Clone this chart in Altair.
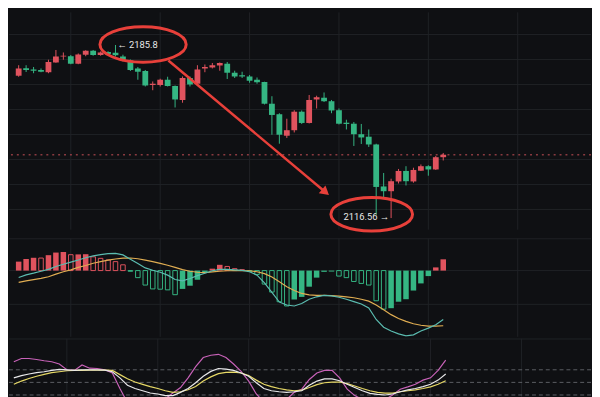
import altair as alt
import numpy as np
import pandas as pd

# ---------------- data ----------------
opens = [2173.5, 2176.5, 2176.0, 2175.8, 2174.9, 2178.8, 2181.2, 2181.3, 2178.3, 2181.9,
         2183.5, 2181.8, 2183.0, 2182.7, 2181.2, 2179.6, 2176.4, 2175.4, 2169.8, 2169.8,
         2171.9, 2169.4, 2163.8, 2172.6, 2170.3, 2176.4, 2176.8, 2177.6, 2178.3, 2174.7,
         2173.7, 2173.2, 2171.9, 2171.0, 2162.3, 2158.1, 2149.5, 2151.7, 2159.1, 2154.6,
         2164.0, 2164.7, 2163.3, 2159.7, 2154.7, 2154.3, 2150.1, 2149.1, 2146.0, 2129.2,
         2127.3, 2131.2, 2135.4, 2131.2, 2135.5, 2137.3, 2136.0, 2140.9]
highs = [2177.7, 2177.7, 2177.0, 2176.4, 2179.9, 2183.8, 2182.8, 2181.8, 2182.4, 2183.7,
         2183.8, 2183.2, 2183.3, 2185.8, 2181.9, 2180.0, 2177.0, 2175.8, 2171.2, 2172.3,
         2173.1, 2169.6, 2173.2, 2173.2, 2177.7, 2178.0, 2178.6, 2178.8, 2179.0, 2175.5,
         2175.1, 2173.8, 2172.8, 2171.1, 2165.3, 2158.5, 2156.3, 2159.7, 2159.6, 2165.8,
         2165.5, 2166.8, 2163.8, 2160.4, 2155.9, 2155.0, 2154.2, 2152.0, 2146.3, 2134.6,
         2132.3, 2136.2, 2137.3, 2136.7, 2138.0, 2137.7, 2141.4, 2142.6]
lows = [2173.1, 2175.0, 2174.5, 2174.9, 2174.5, 2178.7, 2179.9, 2178.1, 2178.1, 2181.3,
        2181.5, 2181.5, 2181.9, 2181.2, 2179.2, 2175.4, 2171.9, 2169.2, 2167.7, 2169.2,
        2169.2, 2160.8, 2162.7, 2169.2, 2170.0, 2174.9, 2176.4, 2175.5, 2172.2, 2172.6,
        2172.6, 2170.7, 2170.3, 2162.0, 2149.9, 2146.3, 2148.6, 2150.8, 2154.2, 2154.4,
        2160.4, 2163.0, 2158.5, 2154.0, 2152.0, 2145.4, 2146.2, 2145.0, 2117.7, 2124.5,
        2116.56, 2130.4, 2129.6, 2130.7, 2135.4, 2133.5, 2135.8, 2139.6]
closes = [2176.4, 2175.8, 2175.5, 2175.1, 2179.0, 2181.2, 2181.5, 2178.3, 2182.0, 2183.5,
          2181.8, 2182.8, 2182.2, 2181.7, 2179.9, 2175.8, 2175.1, 2169.6, 2170.3, 2171.9,
          2169.4, 2164.0, 2172.6, 2170.0, 2176.0, 2177.0, 2177.7, 2178.6, 2174.7, 2173.2,
          2173.2, 2171.5, 2170.9, 2162.3, 2157.8, 2149.9, 2151.7, 2159.1, 2154.6, 2163.8,
          2164.9, 2163.3, 2159.6, 2154.3, 2154.2, 2150.1, 2148.8, 2146.0, 2129.0, 2127.3,
          2131.3, 2135.4, 2131.3, 2135.8, 2137.3, 2136.0, 2140.9, 2141.9]

macd_hist = [9.3, 12.0, 13.3, 13.0, 16.0, 18.7, 19.3, 16.5, 16.8, 17.0,
             14.3, 12.7, 11.0, 9.3, 6.0, -0.7, -7.3, -15.0, -19.0, -19.3,
             -20.0, -25.0, -19.0, -15.7, -9.5, -2.3, 2.0, 6.0, 4.3, 2.0,
             1.0, -1.0, -4.0, -14.0, -22.3, -32.3, -36.7, -30.0, -27.3, -16.7,
             -7.3, -1.3, -1.0, -5.7, -7.3, -11.3, -13.3, -15.0, -31.3, -40.0,
             -39.0, -32.3, -29.7, -20.7, -13.3, -5.7, 3.3, 11.7]
macd_dif = [-7.2, -4.4, -2.7, -0.7, 1.3, 4.3, 6.6, 8.8, 11.0, 13.3,
            15.3, 16.6, 17.6, 17.8, 16.3, 11.8, 7.3, 2.8, 0.3, -1.7,
            -4.7, -9.2, -10.7, -8.2, -5.2, -2.7, -0.2, 1.3, 1.3, 0.8,
            0.3, -1.2, -4.7, -12.7, -22.7, -32.7, -35.7, -36.7, -34.2, -29.7,
            -27.2, -25.7, -26.2, -27.7, -29.7, -32.2, -34.7, -38.7, -50.7, -58.7,
            -62.7, -65.7, -67.7, -66.7, -62.7, -59.7, -56.2, -50.7]
macd_dea = [-12.2, -10.7, -9.4, -8.0, -6.4, -3.7, -1.2, 0.8, 3.3, 5.3,
            7.6, 9.3, 10.8, 12.0, 13.0, 13.1, 12.3, 10.8, 9.3, 7.5,
            5.5, 3.3, 1.0, -0.7, -1.7, -2.2, -1.4, -0.7, -0.2, 0.0,
            0.0, -0.2, -1.2, -3.2, -6.7, -11.7, -16.7, -20.7, -23.7, -25.2,
            -25.7, -25.7, -26.0, -26.4, -27.2, -28.2, -29.7, -31.7, -35.7, -40.7,
            -45.7, -49.7, -52.7, -55.2, -56.7, -57.7, -57.7, -57.2]

kdj_k = [60.8, 66.2, 70.0, 73.1, 75.4, 78.5, 80.8, 80.0, 78.5, 80.0,
         80.0, 80.0, 79.2, 75.4, 60.8, 43.1, 35.4, 30.0, 24.6, 22.3,
         18.5, 18.5, 26.2, 35.4, 49.2, 64.6, 76.2, 83.1, 81.5, 78.5,
         72.3, 64.6, 49.2, 35.4, 30.0, 27.7, 26.2, 27.7, 30.0, 43.1,
         53.1, 58.5, 58.5, 53.8, 45.4, 37.7, 30.0, 23.8, 21.5, 20.0,
         22.3, 27.7, 32.3, 35.4, 40.0, 45.4, 55.4, 70.0]
kdj_d = [45.4, 53.1, 59.2, 64.6, 69.2, 73.1, 75.4, 77.7, 78.5, 78.5,
         79.2, 79.2, 79.2, 78.5, 68.5, 58.5, 50.8, 45.4, 40.0, 35.4,
         30.0, 26.2, 27.7, 32.3, 40.0, 53.1, 63.1, 70.8, 73.8, 74.6,
         72.3, 66.2, 55.4, 45.4, 40.0, 35.4, 32.3, 30.0, 31.5, 37.7,
         44.6, 49.2, 50.8, 50.8, 46.9, 41.5, 35.4, 30.0, 26.2, 24.6,
         24.6, 27.7, 30.0, 32.3, 35.4, 39.2, 45.4, 53.8]
kdj_j = [99.2, 106.9, 106.9, 104.6, 101.5, 99.2, 93.8, 80.0, 78.5, 91.5,
         83.8, 83.1, 80.0, 72.3, 35.4, 1.5, -4.6, -4.6, -3.1, 3.1,
         10.8, 24.6, 37.7, 60.8, 87.7, 109.2, 114.6, 116.9, 109.2, 93.8,
         76.2, 53.1, 22.3, 3.1, -2.3, -0.8, 9.2, 26.2, 33.8, 56.9,
         72.3, 78.5, 78.5, 60.8, 33.8, 18.5, 9.2, -0.8, 1.5, 9.2,
         20.0, 33.8, 39.2, 45.4, 55.4, 60.8, 78.5, 103.1]

time_grid = [7, 19, 31, 43, 55, 67]
price_grid = [2120, 2130, 2140, 2150, 2160, 2170, 2180, 2190]
macd_grid = [33, 0, -35]
kdj_top = [153.4]
kdj_levels = [80, 50, 20]

high_label = "\u2190 2185.8"
low_label = "2116.56 \u2192"

# annotation anchors (candle index, price)
ellipse_x = [16.7, 47.4]
ellipse_y = [2186.0, 2118.1]
ellipse_size = [7700, 6900]
arrow_from = (20.1, 2179.6)
arrow_to = (41.2, 2126.9)

# ---------------- style ----------------
BG = "#0f1013"
GRID = "#202226"
UP = "#e0535e"
DOWN = "#35b683"
ANN = "#e8403a"
W = 592
H_PRICE, H_MACD, H_KDJ = 221, 100, 68

x_scale = alt.Scale(domain=[-0.64, 76.18], nice=False, zero=False)
p_scale = alt.Scale(domain=[2111.92, 2198.85], nice=False, zero=False)
m_scale = alt.Scale(domain=[-68.7, 33.3], nice=False, zero=False)
k_scale = alt.Scale(domain=[-5.4, 153.9], nice=False, zero=False)

ELLIPSE = ("M -1 0 C -1 -0.227 -0.552 -0.41 0 -0.41 C 0.552 -0.41 1 -0.227 1 0 "
           "C 1 0.227 0.552 0.41 0 0.41 C -0.552 0.41 -1 0.227 -1 0 Z")


def X(field):
    return alt.X(field, type="quantitative", scale=x_scale, axis=None)


def Y(field, scale):
    return alt.Y(field, type="quantitative", scale=scale, axis=None)


vgrid = alt.Chart(pd.DataFrame({"g": time_grid})).mark_rule(
    color=GRID, strokeWidth=1).encode(x=X("g"))

# ---------------- price panel ----------------
n = len(closes)
df = pd.DataFrame({"i": np.arange(n), "open": opens, "high": highs,
                   "low": lows, "close": closes})
df["dir"] = np.where(df["close"] >= df["open"], "up", "down")
cdir = alt.Color("dir:N", scale=alt.Scale(domain=["up", "down"], range=[UP, DOWN]),
                 legend=None)

pgrid = alt.Chart(pd.DataFrame({"v": price_grid})).mark_rule(
    color=GRID, strokeWidth=1).encode(y=Y("v", p_scale))
last_line = alt.Chart(pd.DataFrame({"v": [closes[-1]]})).mark_rule(
    color="#8a3a40", strokeWidth=1.5, strokeDash=[2, 4]).encode(y=Y("v", p_scale))
wicks = alt.Chart(df).mark_rule(strokeWidth=1).encode(
    x=X("i"), y=Y("low", p_scale), y2="high", color=cdir)
bodies = alt.Chart(df).mark_bar(width=5.9).encode(
    x=X("i"), y=Y("open", p_scale), y2="close", color=cdir)

hi_i = int(np.argmax(highs))
lo_i = int(np.argmin(lows))
lab_hi = alt.Chart(pd.DataFrame({"i": [hi_i], "p": [highs[hi_i]], "t": [high_label]})).mark_text(
    align="left", baseline="middle", dx=2, fontSize=9.5, font="Roboto", color="#e8e8e8").encode(
    x=X("i"), y=Y("p", p_scale), text="t:N")
lab_lo = alt.Chart(pd.DataFrame({"i": [lo_i], "p": [lows[lo_i]], "t": [low_label]})).mark_text(
    align="right", baseline="middle", dx=-2, dy=-1, fontSize=9.5, font="Roboto", color="#e8e8e8").encode(
    x=X("i"), y=Y("p", p_scale), text="t:N")

ell = alt.Chart(pd.DataFrame({"i": ellipse_x, "p": ellipse_y, "s": ellipse_size})).mark_point(
    shape=ELLIPSE, filled=False, stroke=ANN, strokeWidth=3, opacity=1).encode(
    x=X("i"), y=Y("p", p_scale), size=alt.Size("s:Q", scale=None, legend=None))
arrow = alt.Chart(pd.DataFrame({"i": [arrow_from[0]], "p": [arrow_from[1]],
                                "i2": [arrow_to[0]], "p2": [arrow_to[1]]})).mark_rule(
    color=ANN, strokeWidth=2.5).encode(x=X("i"), y=Y("p", p_scale), x2="i2", y2="p2")
head = alt.Chart(pd.DataFrame({"i": [arrow_to[0]], "p": [arrow_to[1]]})).mark_point(
    shape="triangle-up", angle=130, filled=True, size=110, color=ANN, opacity=1).encode(
    x=X("i"), y=Y("p", p_scale))

price = alt.layer(vgrid, pgrid, last_line, wicks, bodies, arrow, head, ell, lab_hi, lab_lo).properties(
    width=W, height=H_PRICE)

# ---------------- MACD panel ----------------
mdf = pd.DataFrame({"i": np.arange(n), "hist": macd_hist, "dif": macd_dif,
                    "dea": macd_dea, "zero": 0.0})
mdf["sign"] = np.where(mdf["hist"] >= 0, "pos", "neg")
rising = mdf["hist"] > mdf["hist"].shift(1)
rising.iloc[0] = True
mdf["style"] = np.where(rising, "fill", "hollow")

mgrid = alt.Chart(pd.DataFrame({"v": macd_grid})).mark_rule(
    color=GRID, strokeWidth=1).encode(y=Y("v", m_scale))
hist_fill = alt.Chart(mdf).transform_filter(alt.datum.style == "fill").mark_bar(width=5.6).encode(
    x=X("i"), y=Y("hist", m_scale), y2="zero",
    color=alt.Color("sign:N", scale=alt.Scale(domain=["pos", "neg"], range=["#e2566a", "#4fc08f"]),
                    legend=None))
hist_hollow = alt.Chart(mdf).transform_filter(alt.datum.style == "hollow").mark_bar(
    width=4.6, filled=False, strokeWidth=1).encode(
    x=X("i"), y=Y("hist", m_scale), y2="zero",
    color=alt.Color("sign:N", scale=alt.Scale(domain=["pos", "neg"], range=["#c9566a", "#98d3b6"]),
                    legend=None))
dif_line = alt.Chart(mdf).mark_line(color="#5bbcb0", strokeWidth=1.2, clip=True).encode(
    x=X("i"), y=Y("dif", m_scale))
dea_line = alt.Chart(mdf).mark_line(color="#e0ad52", strokeWidth=1.2, clip=True).encode(
    x=X("i"), y=Y("dea", m_scale))

macd = alt.layer(vgrid, mgrid, hist_hollow, hist_fill, dea_line, dif_line).properties(
    width=W, height=H_MACD)

# ---------------- KDJ panel ----------------
kdf = pd.DataFrame({"i": np.arange(n), "K": kdj_k, "D": kdj_d, "J": kdj_j})
ktop = alt.Chart(pd.DataFrame({"v": kdj_top})).mark_rule(
    color=GRID, strokeWidth=1).encode(y=Y("v", k_scale))
klev = alt.Chart(pd.DataFrame({"v": kdj_levels})).mark_rule(
    color="#5c5f64", strokeWidth=1, strokeDash=[4, 3]).encode(y=Y("v", k_scale))
j_line = alt.Chart(kdf).mark_line(color="#c862b8", strokeWidth=1.2, clip=True).encode(
    x=X("i"), y=Y("J", k_scale))
d_line = alt.Chart(kdf).mark_line(color="#e6d866", strokeWidth=1.2, clip=True).encode(
    x=X("i"), y=Y("D", k_scale))
k_line = alt.Chart(kdf).mark_line(color="#e8e8ea", strokeWidth=1.2, clip=True).encode(
    x=X("i"), y=Y("K", k_scale))

kdj = alt.layer(vgrid, ktop, klev, j_line, d_line, k_line).properties(width=W, height=H_KDJ)

chart = alt.vconcat(price, macd, kdj, spacing=0).properties(
    background=BG, padding=0
).configure_view(strokeWidth=0).configure_concat(spacing=0)

chart.save("out.html", embed_options={"renderer": "svg", "actions": False})
